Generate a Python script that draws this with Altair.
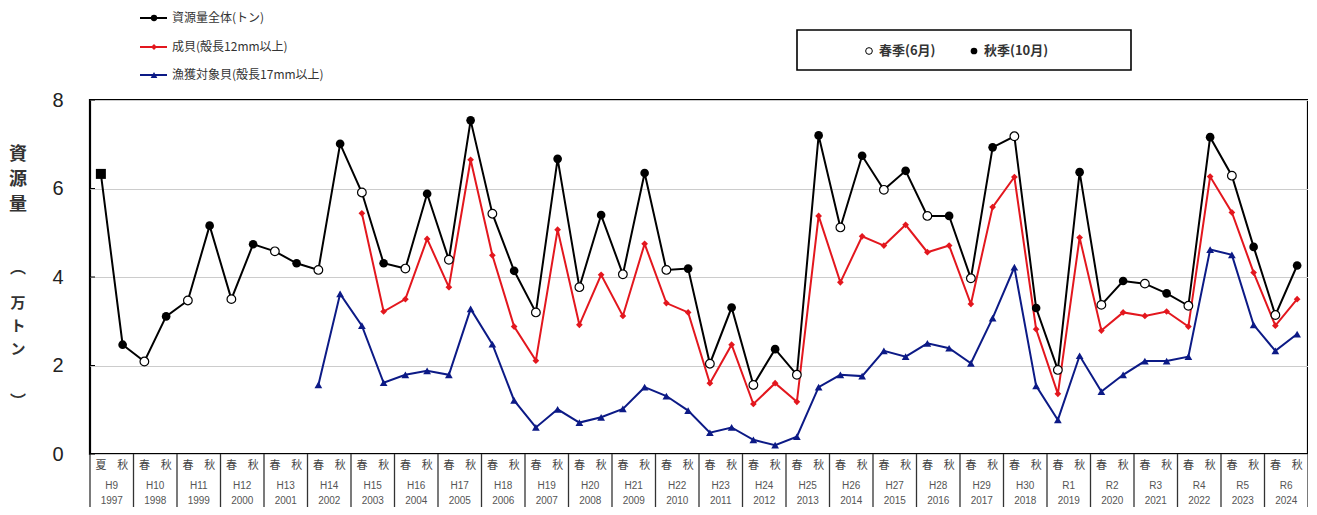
import altair as alt
import pandas as pd

# ---- data ----
seasons = ["夏", "秋"] + ["春", "秋"] * 27
eras = ["H9", "H10", "H11", "H12", "H13", "H14", "H15", "H16", "H17", "H18",
        "H19", "H20", "H21", "H22", "H23", "H24", "H25", "H26", "H27", "H28",
        "H29", "H30", "R1", "R2", "R3", "R4", "R5", "R6"]
years = [str(y) for y in range(1997, 2025)]

total = [6.33, 2.47, 2.09, 3.11, 3.47, 5.16, 3.50, 4.74, 4.58, 4.31,
         4.16, 7.01, 5.91, 4.31, 4.19, 5.88, 4.39, 7.54, 5.43, 4.14,
         3.20, 6.67, 3.77, 5.40, 4.06, 6.35, 4.16, 4.19, 2.04, 3.31,
         1.56, 2.37, 1.79, 7.20, 5.12, 6.74, 5.97, 6.40, 5.38, 5.38,
         3.97, 6.93, 7.18, 3.30, 1.90, 6.37, 3.37, 3.91, 3.85, 3.63,
         3.35, 7.16, 6.29, 4.68, 3.14, 4.26]
adult_start = 12
adult = [5.44, 3.22, 3.50, 4.86, 3.77, 6.65, 4.49, 2.88, 2.11, 5.07,
         2.92, 4.05, 3.12, 4.75, 3.41, 3.20, 1.60, 2.47, 1.13, 1.60,
         1.18, 5.38, 3.88, 4.92, 4.71, 5.18, 4.56, 4.71, 3.39, 5.58,
         6.26, 2.82, 1.36, 4.89, 2.79, 3.20, 3.12, 3.22, 2.88, 6.27,
         5.46, 4.10, 2.90, 3.50]
target_start = 10
target = [1.56, 3.62, 2.90, 1.61, 1.79, 1.88, 1.79, 3.28, 2.48, 1.21,
          0.60, 1.01, 0.71, 0.83, 1.02, 1.51, 1.31, 0.98, 0.48, 0.60,
          0.32, 0.20, 0.39, 1.51, 1.79, 1.76, 2.33, 2.20, 2.50, 2.39,
          2.05, 3.07, 4.22, 1.54, 0.77, 2.22, 1.41, 1.79, 2.10, 2.10,
          2.20, 4.62, 4.50, 2.92, 2.33, 2.71]

series_names = ["資源量全体(トン)", "成貝(殻長12mm以上)", "漁獲対象貝(殻長17mm以上)"]
series_colors = ["#000000", "#e3171e", "#0c1a86"]
y_ticks = [0, 2, 4, 6, 8]

# ---- tables ----
rows = []
for i, v in enumerate(total):
    rows.append({"series": series_names[0], "pos": i + 0.5, "value": v, "season": seasons[i]})
for j, v in enumerate(adult):
    i = adult_start + j
    rows.append({"series": series_names[1], "pos": i + 0.5, "value": v, "season": seasons[i]})
for j, v in enumerate(target):
    i = target_start + j
    rows.append({"series": series_names[2], "pos": i + 0.5, "value": v, "season": seasons[i]})
df = pd.DataFrame(rows)

n_slots = len(seasons)
xscale = alt.Scale(domain=[0, n_slots], nice=False, zero=False)
yscale = alt.Scale(domain=[0, 8], nice=False)
x_enc = alt.X("pos:Q", scale=xscale, axis=None)
y_axis = alt.Axis(values=y_ticks, grid=True, gridColor="#cccccc", gridWidth=1,
                  domain=False, ticks=False, labelFontSize=20,
                  labelFont="Liberation Sans", labelColor="#222222",
                  labelPadding=27, title=None)
y_enc = alt.Y("value:Q", scale=yscale, axis=y_axis)

base = alt.Chart(df)

lines = base.mark_line(strokeWidth=2).encode(
    x=x_enc, y=y_enc,
    color=alt.Color("series:N", scale=alt.Scale(domain=series_names, range=series_colors), legend=None),
)

tot = base.transform_filter(alt.datum.series == series_names[0])
pts_autumn = tot.transform_filter((alt.datum.season == "秋")).mark_point(
    shape="circle", filled=True, color="black", size=75, opacity=1).encode(x=x_enc, y=y_enc)
pts_spring = tot.transform_filter((alt.datum.season == "春")).mark_point(
    shape="circle", filled=True, fill="white", stroke="black", strokeWidth=1.2,
    size=75, opacity=1).encode(x=x_enc, y=y_enc)
pts_summer = tot.transform_filter((alt.datum.season == "夏")).mark_point(
    shape="square", filled=True, color="black", size=100, opacity=1).encode(x=x_enc, y=y_enc)
pts_adult = base.transform_filter(alt.datum.series == series_names[1]).mark_point(
    shape="diamond", filled=True, color=series_colors[1], size=45, opacity=1).encode(x=x_enc, y=y_enc)
pts_target = base.transform_filter(alt.datum.series == series_names[2]).mark_point(
    shape="triangle-up", filled=True, color=series_colors[2], size=60, opacity=1).encode(x=x_enc, y=y_enc)

# inward ticks on y axis
tick_df = pd.DataFrame({"value": y_ticks})
yticks = alt.Chart(tick_df).mark_rule(color="black", strokeWidth=1).encode(
    y=y_enc, x=alt.value(0), x2=alt.value(5))

# ---- category table under the plot ----
H = 354
slot_df = pd.DataFrame({"pos": [i + 0.5 for i in range(n_slots)], "season": seasons})
year_df = pd.DataFrame({"pos": [2 * k + 1 for k in range(len(eras))], "era": eras, "year": years})
bound_df = pd.DataFrame({"b": [2 * k for k in range(len(eras) + 1)]})

table_rules = alt.Chart(bound_df).mark_rule(color="#333333", strokeWidth=1.3).encode(
    x=alt.X("b:Q", scale=xscale, axis=None), y=alt.value(H), y2=alt.value(H + 53))
season_txt = alt.Chart(slot_df).mark_text(font="Noto Sans CJK JP", fontSize=11, color="#444444").encode(
    x=alt.X("pos:Q", scale=xscale, axis=None), y=alt.value(H + 12), text="season:N")
era_txt = alt.Chart(year_df).mark_text(font="Liberation Sans", fontSize=10, color="#555555").encode(
    x=alt.X("pos:Q", scale=xscale, axis=None), y=alt.value(H + 32), text="era:N")
year_txt = alt.Chart(year_df).mark_text(font="Liberation Sans", fontSize=10, color="#555555").encode(
    x=alt.X("pos:Q", scale=xscale, axis=None), y=alt.value(H + 47), text="year:N")

# ---- y title (vertical) ----
one = pd.DataFrame({"a": [0]})
def ytitle(txt, y, fs):
    return alt.Chart(one).mark_text(font="Noto Sans CJK JP", fontSize=fs, fontWeight="bold",
                                    color="#333333").encode(
        x=alt.value(-72), y=alt.value(y), text=alt.value(txt))
ytitle_layers = [
    ytitle("資", 55, 18), ytitle("源", 80, 18), ytitle("量", 105, 18),
    ytitle("︵", 168, 16),
    ytitle("万", 203, 15), ytitle("ト", 226, 15), ytitle("ン", 249, 15),
    ytitle("︶", 302, 16),
]

# ---- top-left legend ----
leg_layers = []
leg_y = [-82, -53, -25]
leg_shapes = ["circle", "diamond", "triangle-up"]
leg_sizes = [40, 35, 45]
for name, col, yy, shp, sz in zip(series_names, series_colors, leg_y, leg_shapes, leg_sizes):
    leg_layers.append(alt.Chart(one).mark_rule(color=col, strokeWidth=2).encode(
        x=alt.value(50), x2=alt.value(77), y=alt.value(yy)))
    leg_layers.append(alt.Chart(one).mark_point(shape=shp, filled=True, color=col, size=sz, opacity=1).encode(
        x=alt.value(64), y=alt.value(yy)))
    leg_layers.append(alt.Chart(one).mark_text(font="Noto Sans CJK JP", fontSize=12, color="#333333",
                                               align="left").encode(
        x=alt.value(82), y=alt.value(yy), text=alt.value(name)))

# ---- season legend box ----
box = alt.Chart(one).mark_rect(fill="white", stroke="black", strokeWidth=1.6).encode(
    x=alt.value(707), x2=alt.value(1041), y=alt.value(-70), y2=alt.value(-30))
bx_open = alt.Chart(one).mark_point(shape="circle", filled=True, fill="white", stroke="black",
                                    strokeWidth=1, size=45, opacity=1).encode(
    x=alt.value(779), y=alt.value(-49))
bx_fill = alt.Chart(one).mark_point(shape="circle", filled=True, color="black", size=45, opacity=1).encode(
    x=alt.value(884), y=alt.value(-49))
bx_t1 = alt.Chart(one).mark_text(font="Noto Sans CJK JP", fontSize=13, fontWeight="bold", color="#333333",
                                 align="left").encode(x=alt.value(789), y=alt.value(-49), text=alt.value("春季(6月)"))
bx_t2 = alt.Chart(one).mark_text(font="Noto Sans CJK JP", fontSize=13, fontWeight="bold", color="#333333",
                                 align="left").encode(x=alt.value(894), y=alt.value(-49), text=alt.value("秋季(10月)"))

chart = alt.layer(
    lines, pts_target, pts_adult, pts_spring, pts_autumn, pts_summer, yticks,
    table_rules, season_txt, era_txt, year_txt,
    *ytitle_layers, *leg_layers, box, bx_open, bx_fill, bx_t1, bx_t2,
).properties(
    width=1218, height=H,
    autosize=alt.AutoSizeParams(type="none"),
    padding={"left": 82, "right": 0, "top": 92, "bottom": 53},
).configure_view(stroke="black", strokeWidth=2.2)

chart.save("out.html", embed_options={"renderer": "svg", "actions": False})
